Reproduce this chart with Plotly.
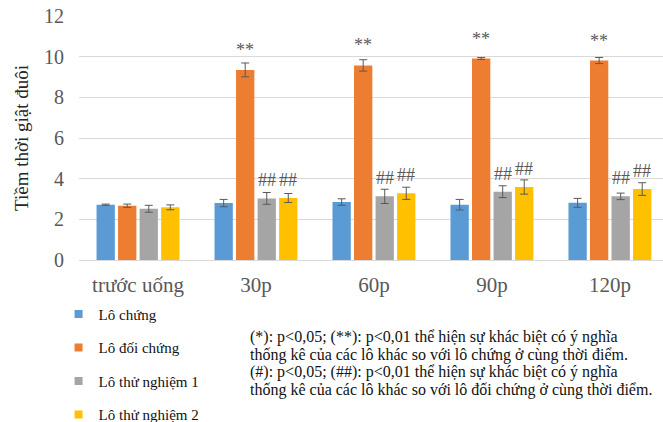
import plotly.graph_objects as go

# Time points and groups
categories = ["trước uống", "30p", "60p", "90p", "120p"]
groups = ["Lô chứng", "Lô đối chứng", "Lô thử nghiệm 1", "Lô thử nghiệm 2"]
colors = ["#5B9BD5", "#ED7D31", "#A5A5A5", "#FFC000"]

# Mean tail-flick latency per group
lo_chung = [2.72, 2.80, 2.85, 2.72, 2.81]
lo_doi_chung = [2.67, 9.35, 9.57, 9.91, 9.81]
lo_thu_nghiem_1 = [2.52, 3.03, 3.13, 3.36, 3.13]
lo_thu_nghiem_2 = [2.59, 3.05, 3.28, 3.59, 3.49]

# Error bar half-widths
err_lo_chung = [0.03, 0.18, 0.16, 0.26, 0.22]
err_lo_doi_chung = [0.08, 0.34, 0.28, 0.05, 0.15]
err_lo_thu_nghiem_1 = [0.17, 0.29, 0.35, 0.29, 0.16]
err_lo_thu_nghiem_2 = [0.12, 0.22, 0.30, 0.35, 0.31]

# Significance marks shown above bars
sig_doi_chung = ["", "**", "**", "**", "**"]
sig_thu_nghiem_1 = ["", "##", "##", "##", "##"]
sig_thu_nghiem_2 = ["", "##", "##", "##", "##"]

# Footnote explaining the marks
note_lines = [
    "(*): p<0,05; (**): p<0,01 thể hiện sự khác biệt có ý nghĩa",
    "thống kê của các lô khác so với lô chứng ở cùng thời điểm.",
    "(#): p<0,05; (##): p<0,01 thể hiện sự khác biệt có ý nghĩa",
    "thống kê của các lô khác so với lô đối chứng ở cùng thời điểm.",
]

values = [lo_chung, lo_doi_chung, lo_thu_nghiem_1, lo_thu_nghiem_2]
errors = [err_lo_chung, err_lo_doi_chung, err_lo_thu_nghiem_1, err_lo_thu_nghiem_2]
marks = [None, sig_doi_chung, sig_thu_nghiem_1, sig_thu_nghiem_2]

SERIF = "'Liberation Serif', 'Times New Roman', serif"
BARGAP = 0.27
BARGROUPGAP = 0.15

fig = go.Figure()
for i, (name, vals, errs, col) in enumerate(zip(groups, values, errors, colors)):
    fig.add_trace(go.Bar(
        x=categories, y=vals, name=name,
        marker=dict(color=col, line=dict(width=0)),
        error_y=dict(type="data", array=errs, visible=True,
                     color="#595959", thickness=1, width=4),
        showlegend=False,
    ))
    # small square legend keys
    fig.add_trace(go.Scatter(
        x=[None], y=[None], mode="markers", name=name,
        marker=dict(symbol="square", size=8, color=col),
        legendgroup=name, showlegend=True,
    ))

# Significance labels, centred over their bars
slot = (1 - BARGAP) / len(groups)
for gi, sig in enumerate(marks):
    if sig is None:
        continue
    offset = (gi - (len(groups) - 1) / 2) * slot
    for ci, txt in enumerate(sig):
        if not txt:
            continue
        fig.add_annotation(
            x=ci + offset, y=values[gi][ci], xref="x", yref="y",
            text=txt, showarrow=False, yanchor="middle",
            yshift=20 if txt == "**" else 18,
            font=dict(family=SERIF, size=18, color="#595959"),
        )

# Footnote, one line per annotation for tight line spacing
for k, line in enumerate(note_lines):
    fig.add_annotation(
        x=0.289, y=-0.3156 - k * 0.0725, xref="paper", yref="paper",
        xanchor="left", yanchor="middle", align="left", showarrow=False,
        text=line,
        font=dict(family=SERIF, size=16, color="#111111"),
    )

fig.update_layout(
    width=663, height=422,
    margin=dict(l=79, r=0, t=16, b=162, pad=0, autoexpand=False),
    paper_bgcolor="white", plot_bgcolor="white",
    barmode="group", bargap=BARGAP, bargroupgap=BARGROUPGAP,
    font=dict(family=SERIF, color="#595959"),
    legend=dict(
        x=-0.035, y=-0.155, xanchor="left", yanchor="top",
        orientation="v", tracegroupgap=11,
        font=dict(family=SERIF, size=15, color="#111111"),
        bgcolor="rgba(0,0,0,0)",
    ),
    xaxis=dict(
        type="category", range=[-0.5, 4.45],
        showgrid=False, showline=False, ticks="",
        tickfont=dict(family=SERIF, size=21, color="#595959"),
        ticklabelstandoff=10,
    ),
    yaxis=dict(
        range=[0, 12], dtick=2, showline=False, ticks="",
        gridcolor="#D9D9D9", gridwidth=1,
        zeroline=True, zerolinecolor="#D9D9D9", zerolinewidth=1,
        tickfont=dict(family=SERIF, size=20, color="#595959"),
        ticklabelstandoff=14,
        title=dict(text="Tiềm thời giật đuôi", standoff=10,
                   font=dict(family=SERIF, size=19, color="#262626")),
    ),
)

fig.write_html("out.html")
